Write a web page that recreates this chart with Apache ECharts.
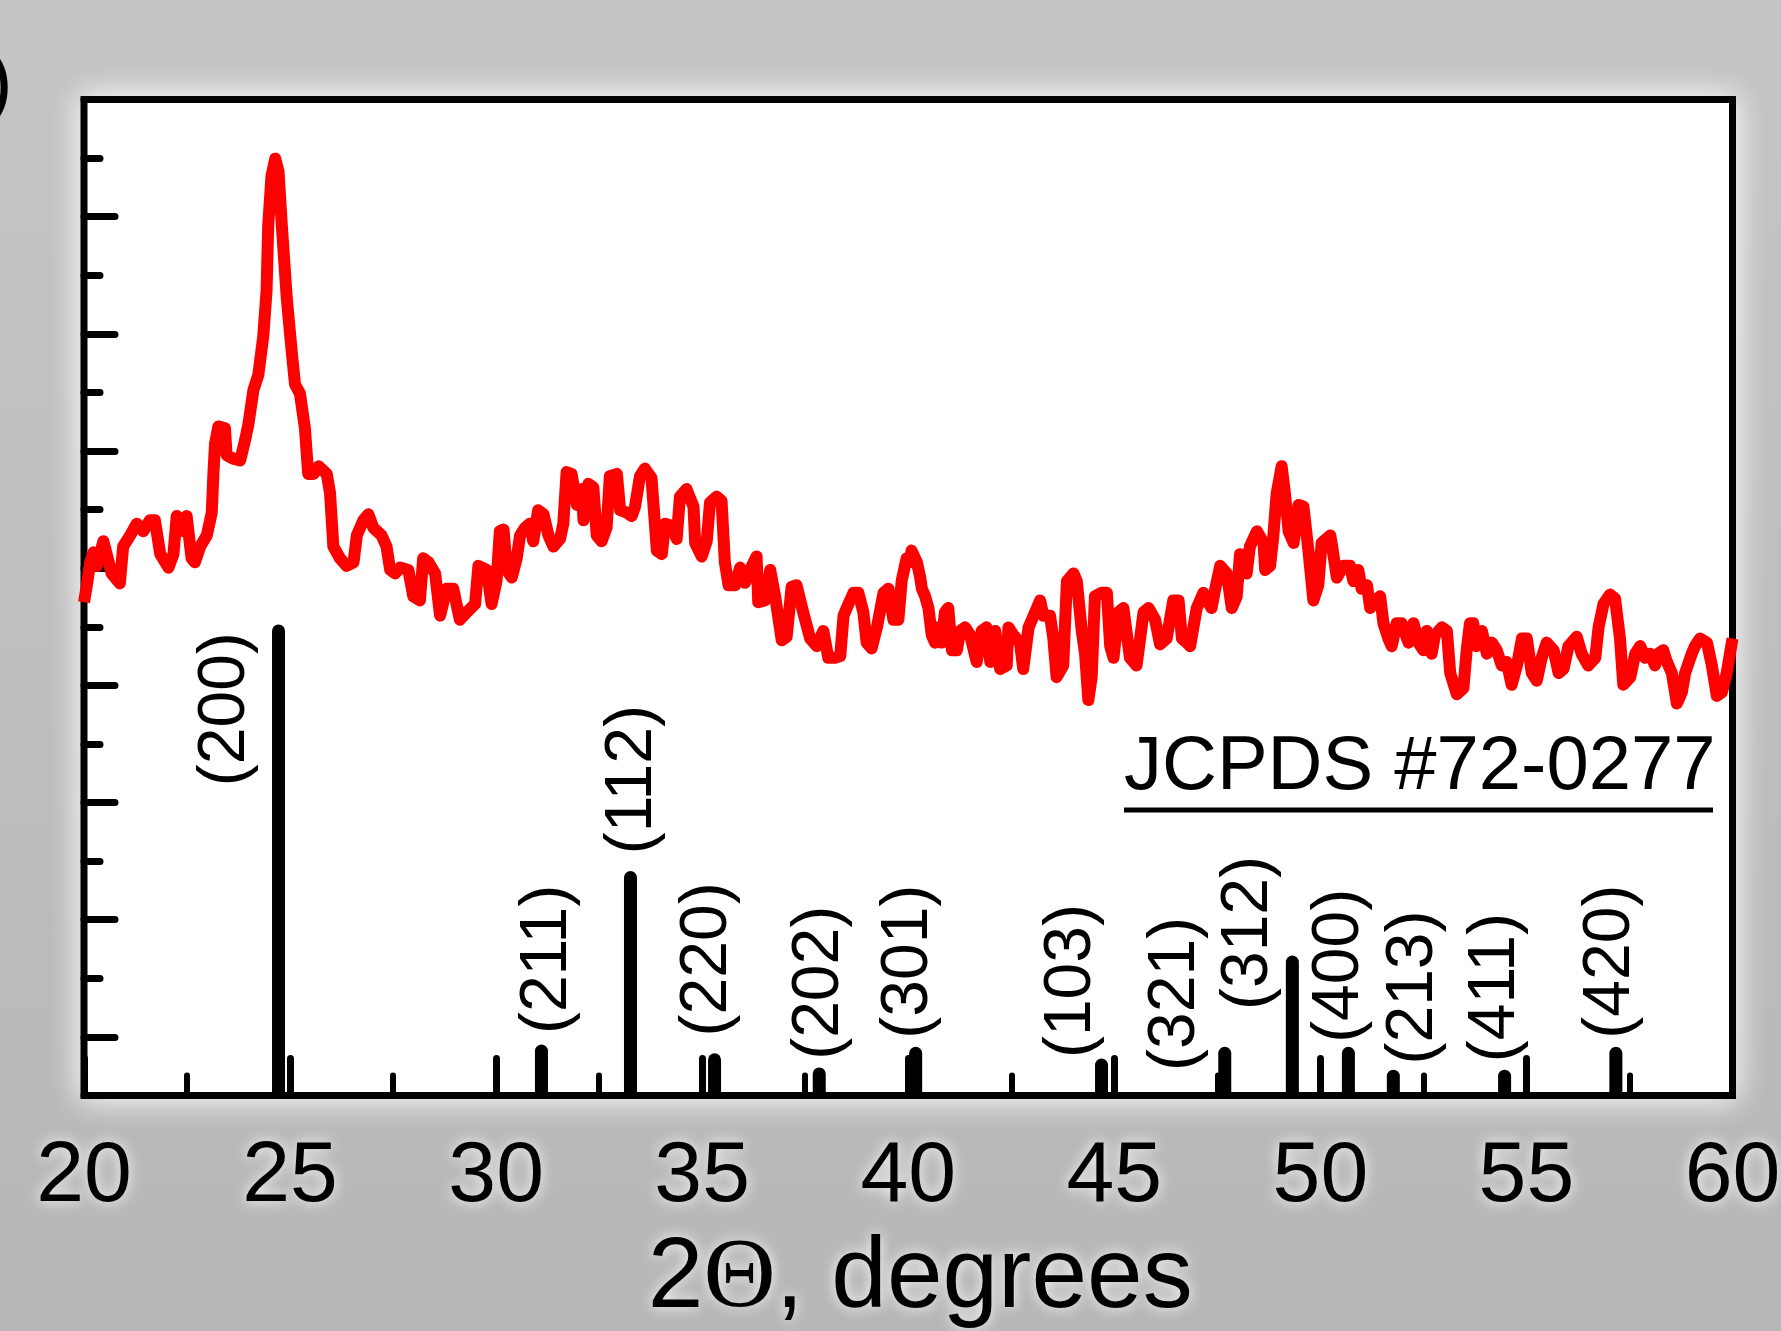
<!DOCTYPE html>
<html>
<head>
<meta charset="utf-8">
<script src="https://cdn.jsdelivr.net/npm/echarts@6/dist/echarts.min.js"></script>
<style>
html,body{margin:0;padding:0;background:#c0c0c0}
#chart{width:1781px;height:1331px}
</style>
</head>
<body>
<div id="chart"></div>
<script>
var sans = '"Liberation Sans Narrow","Arial Narrow","Liberation Sans",Arial,sans-serif';

// measured XRD pattern, 2theta (deg) and intensity (a.u.)
var twoTheta = [
  20.00, 20.07, 20.15, 20.23, 20.31, 20.47, 20.67, 20.87, 20.95, 21.12,
  21.28, 21.44, 21.60, 21.72, 21.85, 22.05, 22.17, 22.25, 22.41, 22.49,
  22.61, 22.69, 22.82, 22.98, 23.10, 23.14, 23.18, 23.26, 23.42, 23.46,
  23.62, 23.79, 23.91, 23.99, 24.11, 24.23, 24.35, 24.43, 24.47, 24.55,
  24.64, 24.72, 24.80, 24.92, 25.04, 25.12, 25.24, 25.36, 25.44, 25.57,
  25.69, 25.89, 25.97, 26.05, 26.21, 26.37, 26.54, 26.62, 26.78, 26.90,
  27.02, 27.22, 27.34, 27.43, 27.55, 27.67, 27.87, 27.99, 28.15, 28.23,
  28.36, 28.52, 28.64, 28.80, 28.96, 29.12, 29.29, 29.49, 29.57, 29.77,
  29.89, 30.01, 30.09, 30.18, 30.26, 30.38, 30.50, 30.58, 30.70, 30.82,
  30.90, 31.02, 31.15, 31.27, 31.39, 31.55, 31.63, 31.71, 31.83, 31.96,
  32.08, 32.12, 32.24, 32.36, 32.44, 32.56, 32.68, 32.76, 32.93, 33.01,
  33.17, 33.29, 33.37, 33.49, 33.61, 33.77, 33.90, 34.02, 34.10, 34.26,
  34.38, 34.46, 34.62, 34.79, 34.83, 34.99, 35.11, 35.19, 35.35, 35.47,
  35.55, 35.64, 35.80, 35.92, 36.04, 36.16, 36.32, 36.36, 36.52, 36.65,
  36.77, 36.93, 37.05, 37.17, 37.29, 37.46, 37.62, 37.78, 37.94, 38.06,
  38.22, 38.35, 38.43, 38.55, 38.67, 38.79, 38.91, 38.99, 39.11, 39.24,
  39.40, 39.52, 39.64, 39.76, 39.84, 39.96, 40.04,
  40.08, 40.21, 40.29, 40.33, 40.41, 40.49, 40.57, 40.65, 40.73, 40.81,
  40.89, 40.97, 41.06, 41.18, 41.26, 41.38, 41.50, 41.66, 41.78, 41.90,
  41.99, 42.11, 42.23, 42.39, 42.43, 42.55, 42.71, 42.79, 42.92, 43.08,
  43.20, 43.28, 43.44, 43.52, 43.60, 43.76, 43.85, 44.01, 44.09, 44.21,
  44.29, 44.37, 44.45, 44.53, 44.69, 44.82, 44.90, 44.98, 45.10, 45.22,
  45.38, 45.54, 45.71, 45.83, 45.99, 46.11, 46.27, 46.43, 46.56, 46.64,
  46.76, 46.84, 47.00, 47.16, 47.36, 47.45, 47.57, 47.73, 47.85, 47.97,
  48.05, 48.21, 48.29, 48.46, 48.62, 48.66, 48.78, 48.86, 48.94, 49.06,
  49.14, 49.23, 49.35, 49.47, 49.59, 49.71, 49.83, 49.95, 50.03, 50.24,
  50.28, 50.40, 50.56, 50.72, 50.80, 50.92, 51.00, 51.13, 51.21, 51.33,
  51.45, 51.53, 51.65, 51.73, 51.85, 51.97, 52.14, 52.26, 52.38, 52.50,
  52.58, 52.70, 52.78, 52.95, 53.07, 53.15, 53.31, 53.47, 53.55, 53.63,
  53.71, 53.79, 53.92, 54.04, 54.16, 54.28, 54.40, 54.52, 54.64, 54.77,
  54.89, 55.01, 55.13, 55.25, 55.37, 55.49, 55.66, 55.78, 55.90, 56.02,
  56.22, 56.34, 56.50, 56.67, 56.75, 56.87, 57.03, 57.15, 57.27, 57.35,
  57.52, 57.64, 57.76, 57.88, 58.00, 58.12, 58.20, 58.32, 58.41, 58.53,
  58.65, 58.77, 58.85, 59.01, 59.09, 59.21, 59.38, 59.50, 59.62, 59.74,
  59.86, 60.00
];
var intensity = [
  8.42, 8.71, 9.10, 9.27, 9.04, 9.46, 8.91, 8.74, 9.37, 9.56,
  9.76, 9.63, 9.82, 9.82, 9.24, 9.01, 9.24, 9.89, 9.63, 9.89,
  9.17, 9.10, 9.37, 9.56, 9.95, 10.61, 11.13, 11.42, 11.39, 10.93,
  10.87, 10.84, 11.19, 11.46, 12.04, 12.30, 12.96, 13.74, 14.85, 15.70,
  15.99, 15.77, 14.85, 13.61, 12.70, 12.14, 11.98, 11.39, 10.61, 10.61,
  10.74, 10.61, 10.28, 9.37, 9.17, 9.04, 9.10, 9.56, 9.82, 9.92,
  9.69, 9.56, 9.37, 8.97, 8.91, 9.01, 8.97, 8.52, 8.45, 9.17,
  9.10, 8.91, 8.19, 8.65, 8.65, 8.12, 8.25, 8.39, 9.04, 8.97,
  8.39, 8.78, 9.63, 9.66, 8.97, 8.84, 9.17, 9.56, 9.69, 9.76,
  9.46, 9.99, 9.92, 9.56, 9.37, 9.50, 9.76, 10.64, 10.61, 10.08,
  10.35, 9.82, 10.44, 10.38, 9.56, 9.46, 9.69, 10.57, 10.61, 9.99,
  9.95, 9.89, 10.05, 10.57, 10.70, 10.54, 9.30, 9.24, 9.76, 9.72,
  9.50, 10.22, 10.35, 10.05, 9.43, 9.20, 9.46, 10.12, 10.22, 10.15,
  9.10, 8.71, 8.71, 9.01, 8.75, 8.97, 9.20, 8.42, 8.45, 8.97,
  8.52, 7.77, 7.83, 8.68, 8.71, 8.22, 7.80, 7.67, 7.93, 7.47,
  7.47, 7.50, 8.19, 8.39, 8.58, 8.58, 8.25, 7.73, 7.63, 7.99,
  8.58, 8.65, 8.12, 8.12, 8.78, 9.17, 9.10,
  9.30, 9.10, 8.84, 8.65, 8.52, 8.32, 7.86, 7.73, 7.99, 7.73,
  8.25, 8.32, 7.60, 7.60, 7.93, 7.99, 7.86, 7.40, 7.93, 7.99,
  7.40, 7.93, 7.28, 7.34, 7.99, 7.86, 7.73, 7.28, 7.99, 8.25,
  8.45, 8.19, 8.19, 7.80, 7.14, 7.34, 8.78, 8.91, 8.78, 7.93,
  7.54, 6.75, 7.14, 8.52, 8.58, 8.58, 7.67, 7.47, 8.25, 8.32,
  7.47, 7.34, 8.25, 8.32, 8.12, 7.70, 7.80, 8.45, 8.45, 7.80,
  7.73, 7.67, 8.32, 8.58, 8.32, 8.65, 9.04, 8.91, 8.32, 8.52,
  9.24, 8.91, 9.37, 9.63, 9.43, 8.97, 9.04, 9.56, 10.28, 10.74,
  10.28, 9.63, 9.43, 10.08, 10.05, 9.30, 8.45, 8.71, 9.43, 9.56,
  9.40, 8.84, 9.04, 9.04, 8.78, 8.97, 8.65, 8.71, 8.32, 8.45,
  8.52, 8.06, 7.80, 7.67, 8.06, 8.06, 7.73, 8.06, 7.73, 7.60,
  7.93, 7.54, 7.86, 7.99, 7.93, 7.21, 6.85, 6.95, 7.60, 8.06,
  8.06, 7.67, 7.93, 7.54, 7.73, 7.60, 7.34, 7.40, 7.01, 7.34,
  7.80, 7.80, 7.21, 7.08, 7.47, 7.73, 7.60, 7.21, 7.28, 7.67,
  7.83, 7.54, 7.34, 7.47, 7.99, 8.39, 8.55, 8.48, 7.80, 7.01,
  7.14, 7.54, 7.67, 7.47, 7.54, 7.34, 7.54, 7.60, 7.40, 7.21,
  6.69, 6.88, 7.21, 7.54, 7.67, 7.80, 7.73, 7.34, 6.82, 6.88,
  7.21, 7.80
];

// JCPDS #72-0277 reference lines
var hkl = ['(200)', '(211)', '(112)', '(220)', '(202)', '(301)', '(103)',
           '(321)', '(312)', '(400)', '(213)', '(411)', '(420)'];
var refPos = [24.72, 31.10, 33.26, 35.30, 37.84, 40.18, 44.69,
              47.68, 49.32, 50.68, 51.77, 54.47, 57.17];
var refInt = [8.04, 0.87, 3.83, 0.72, 0.48, 0.83, 0.63,
              0.83, 2.39, 0.83, 0.44, 0.44, 0.83];
// where each hkl label starts (2theta, intensity)
var hklX = [23.45, 31.25, 33.31, 35.14, 37.86, 40.01, 43.97,
            46.50, 48.27, 50.46, 52.27, 54.26, 57.05];
var hklY = [5.27, 1.04, 4.11, 1.00, 0.60, 0.96, 0.63,
            0.41, 1.45, 0.89, 0.52, 0.56, 0.96];

var chart = echarts.init(document.getElementById('chart'));

var glow = { textShadowColor: '#ffffff', textShadowBlur: 14 };

var option = {
  backgroundColor: {
    type: 'linear', x: 0, y: 0, x2: 0, y2: 1,
    colorStops: [{ offset: 0, color: '#c5c5c5' }, { offset: 1, color: '#b7b7b7' }]
  },
  animation: false,
  grid: {
    left: 84, right: 48.5, top: 99.5, bottom: 235.5,
    containLabel: false,
    outerBoundsMode: 'none',
    show: true,
    backgroundColor: '#ffffff',
    borderColor: '#000000',
    borderWidth: 7,
    shadowColor: '#ffffff',
    shadowBlur: 30
  },
  xAxis: {
    type: 'value', min: 20, max: 60, interval: 5,
    axisLine: { show: false },
    splitLine: { show: false },
    axisTick: { inside: true, length: 37, lineStyle: { color: '#000', width: 7, cap: 'round' } },
    minorTick: { show: true, splitNumber: 2, length: 20, lineStyle: { color: '#000', width: 6, cap: 'round' } },
    axisLabel: Object.assign({
      margin: 39, fontSize: 86, fontFamily: sans, color: '#000'
    }, glow),
    name: '{a|2}{t|Θ}{a|, degrees}',
    nameLocation: 'middle',
    nameGap: 134,
    nameTextStyle: {
      padding: [0, 0, 0, 24],
      rich: {
        a: Object.assign({ fontSize: 100, fontFamily: sans, color: '#000' }, glow),
        t: Object.assign({ fontSize: 100, fontFamily: '"Liberation Serif","Times New Roman",serif', color: '#000' }, glow)
      }
    }
  },
  yAxis: [{
    type: 'value', min: 0, max: 17, interval: 1, position: 'left',
    axisLine: { show: false },
    splitLine: { show: false },
    axisLabel: { show: false },
    axisTick: { inside: true, length: 16, lineStyle: { color: '#000', width: 7, cap: 'round' } }
  }, {
    // long ticks, counted down from the top frame
    type: 'value', min: 0, max: 17, interval: 2, inverse: true, position: 'left',
    axisLine: { show: false },
    splitLine: { show: false },
    axisLabel: { show: false },
    axisTick: { inside: true, length: 31, lineStyle: { color: '#000', width: 7, cap: 'round' } }
  }],
  series: [{
    type: 'bar',
    yAxisIndex: 0,
    barWidth: 13,
    itemStyle: { color: '#000', borderRadius: [6.5, 6.5, 0, 0] },
    data: refPos.map(function (x, i) { return [x, refInt[i]]; }),
    z: 3
  }, {
    type: 'line',
    yAxisIndex: 0,
    showSymbol: false,
    lineStyle: { color: '#ff0000', width: 12, join: 'round' },
    data: twoTheta.map(function (x, i) { return [x, intensity[i]]; }),
    z: 4
  }, {
    type: 'scatter',
    yAxisIndex: 0,
    symbolSize: 1,
    itemStyle: { color: 'rgba(0,0,0,0)' },
    label: {
      show: true,
      position: 'top',
      distance: 0,
      rotate: 90,
      align: 'left',
      verticalAlign: 'middle',
      formatter: '{b}',
      fontSize: 66,
      fontFamily: '"Liberation Sans",Arial,sans-serif',
      color: '#000000',
      opacity: 1,
      textBorderWidth: 0
    },
    data: hkl.map(function (h, i) { return { name: h, value: [hklX[i], hklY[i]] }; }),
    z: 5
  }],
  graphic: [{
    type: 'text',
    x: 1124, y: 768,
    style: {
      text: 'JCPDS #72-0277',
      font: '76px ' + sans,
      fill: '#000',
      textAlign: 'left',
      textVerticalAlign: 'middle'
    },
    z: 10
  }, {
    type: 'line',
    shape: { x1: 1124, y1: 810, x2: 1713, y2: 810 },
    style: { stroke: '#000', lineWidth: 5 },
    z: 10
  }, {
    type: 'text',
    x: -14, y: 86,
    style: {
      text: ')',
      font: '80px ' + sans,
      fill: '#000',
      textVerticalAlign: 'middle',
      shadowColor: '#fff', shadowBlur: 12
    }
  }]
};

chart.setOption(option);
</script>
</body>
</html>
